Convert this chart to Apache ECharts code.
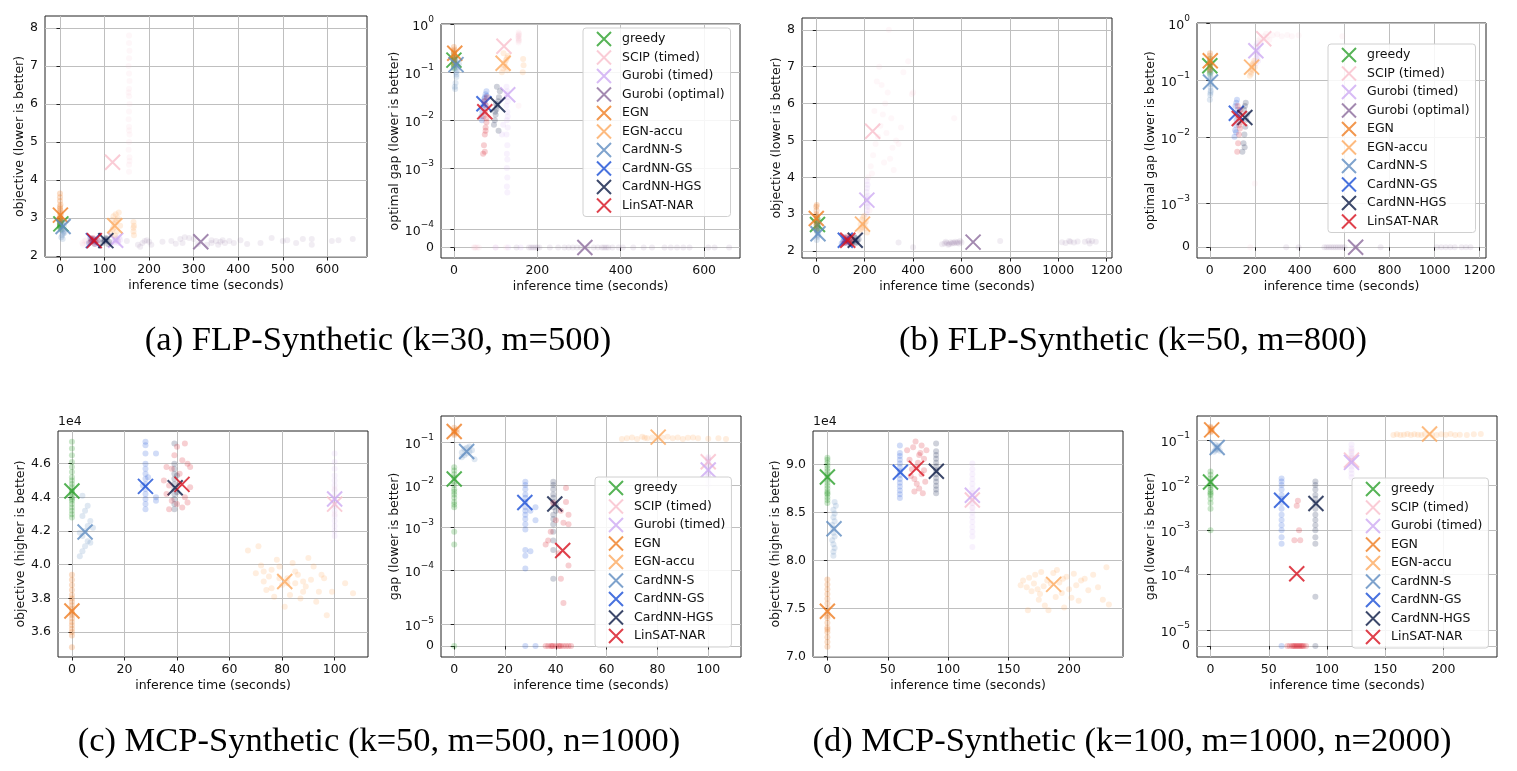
<!DOCTYPE html>
<html><head><meta charset="utf-8">
<script src="https://cdn.jsdelivr.net/npm/echarts@6/dist/echarts.min.js"></script>
<style>html,body{margin:0;padding:0;background:#fff}#c{width:1517px;height:771px}</style>
</head><body><div id="c"></div><script>
const METHODS = ['greedy','SCIP (timed)','Gurobi (timed)','Gurobi (optimal)','EGN','EGN-accu','CardNN-S','CardNN-GS','CardNN-HGS','LinSAT-NAR'];
const COLORS = ['#2ca02c','#f9bfcc','#cdaaf2','#8c6c9c','#ef7d22','#fdaa60','#5f8cc0','#1a4fd6','#0b1a45','#d7101e'];
const DOT_ALPHA = [0.25,0.12,0.15,0.12,0.25,0.2,0.2,0.2,0.2,0.2];
const FONT = 'DejaVu Sans';

// ---------- tick labels ----------
const a1XTicks = [0,100,200,300,400,500,600];
const a2XTicks = [0,200,400,600];
const b1XTicks = [0,200,400,600,800,1000,1200];
const b2XTicks = [0,200,400,600,800,1000,1200];
const c1XTicks = [0,20,40,60,80,100];
const c2XTicks = [0,20,40,60,80,100];
const d1XTicks = [0,50,100,150,200];
const d2XTicks = [0,50,100,150,200];
const a1YTicks = [2,3,4,5,6,7,8];
const b1YTicks = [2,3,4,5,6,7,8];
const c1YTicks = [36000,38000,40000,42000,44000,46000];
const d1YTicks = [70000,75000,80000,85000,90000];
const a2GapTicks = [0,1e-4,1e-3,1e-2,1e-1,1];
const b2GapTicks = [0,1e-3,1e-2,1e-1,1];
const c2GapTicks = [0,1e-5,1e-4,1e-3,1e-2,1e-1];
const d2GapTicks = [0,1e-5,1e-4,1e-3,1e-2,1e-1];
// scale positions of the gap ticks (symlog-like axis, in decade units)
const a2GapPos = [0,0.38,1.66,2.66,3.66,4.66];
const b2GapPos = [0,0.77,1.95,2.95,3.95];
const c2GapPos = [0,0.5,1.776,2.776,3.776,4.776];
const d2GapPos = [0,0.35,1.59,2.58,3.59,4.59];

// ---------- data: means (X markers), METHODS order ----------
const a1Mean = [[2,2.85],[118,4.47],[125,2.42],[316,2.38],[1,3.08],[123,2.8],[7,2.78],[75,2.41],[103,2.41],[77,2.41]];
const a2Mean = [[0,0.18],[120,0.35],[129,0.034],[314,0],[2,0.25],[118,0.155],[5,0.145],[72,0.022],[105,0.021],[74,0.015]];
const b1Mean = [[5,2.72],[233,5.25],[209,3.38],[648,2.24],[0,2.88],[191,2.73],[7,2.47],[120,2.29],[161,2.29],[130,2.29]];
const b2Mean = [[0,0.18],[240,0.54],[205,0.33],[649,0],[2,0.22],[186,0.17],[3,0.093],[118,0.026],[156,0.022],[131,0.021]];
const c1Mean = [[0,44380],[100,43600],[100,43900],null,[0,37250],[81,39000],[5,41940],[28,44650],[39.3,44570],[41.9,44770]];
const c2Mean = [[0,0.0138],[100,0.035],[100,0.0226],null,[0,0.18],[80.3,0.133],[4.9,0.061],[27.8,0.0039],[39.6,0.0036],[42.7,0.00029]];
const d1Mean = [[0,88700],[120,86300],[120,86800],null,[0,74700],[187.3,77500],[5.5,83300],[60.4,89200],[90.2,89300],[73.7,89600]];
const d2Mean = [[0,0.0117],[121,0.036],[121,0.032],null,[1,0.17],[188,0.138],[5.7,0.069],[61,0.0046],[90.5,0.0039],[74,0.000105]];

// ---------- data: per-instance samples, METHODS order ----------
const a1Pts = [
 [[0,2.75],[0,2.8],[1,2.85],[0,2.9],[1,2.95],[0,3.0],[2,2.7],[0,2.82],[1,2.88],[0,2.78],[2,2.92],[0,2.86]],
 [[155,4.22],[155,4.4],[156,4.6],[154,4.8],[155,5.0],[156,5.2],[155,5.4],[154,5.6],[155,5.8],[156,6.0],[155,6.2],[155,6.4],[156,6.6],[155,6.8],[154,7.0],[155,7.2],[156,7.4],[155,7.6],[155,7.8],[155,5.3],[156,4.5],[154,6.3],[50,2.35],[55,2.4],[60,2.32],[65,2.38],[52,2.3],[58,2.42],[70,2.36],[100,2.4],[110,2.35],[130,2.4]],
 [[120,2.38],[125,2.42],[128,2.45],[130,2.4],[133,2.5],[122,2.36],[135,2.43],[126,2.48],[131,2.35],[124,2.44]],
 [[150,2.4],[175,2.3],[185,2.35],[190,2.4],[195,2.42],[200,2.38],[180,2.25],[205,2.3],[250,2.4],[270,2.45],[280,2.5],[290,2.48],[300,2.45],[275,2.35],[310,2.32],[330,2.3],[340,2.35],[350,2.4],[355,2.3],[360,2.38],[365,2.42],[370,2.35],[380,2.4],[390,2.35],[405,2.42],[420,2.32],[450,2.35],[475,2.48],[500,2.4],[510,2.42],[530,2.35],[545,2.45],[565,2.45],[565,2.3],[610,2.4],[625,2.42],[657,2.45],[340,2.42],[230,2.38],[260,2.33]],
 [[0,2.9],[0,2.95],[1,3.0],[0,3.05],[2,3.1],[0,3.15],[1,3.2],[0,3.25],[0,3.3],[1,3.35],[0,3.45],[0,3.55],[0,3.65],[1,3.0],[2,2.95]],
 [[115,2.6],[118,2.7],[120,2.75],[122,2.85],[125,2.9],[127,2.95],[130,3.0],[120,3.05],[125,3.1],[132,3.15],[128,2.65],[123,2.55],[135,2.8],[117,2.95],[165,2.9],[166,2.8],[165,2.65],[166,2.55],[165,2.75]],
 [[3,2.5],[5,2.55],[7,2.6],[8,2.65],[6,2.7],[4,2.75],[9,2.8],[5,2.85],[7,2.9],[6,2.45],[10,2.62],[4,2.68]],
 [[65,2.35],[70,2.4],[75,2.45],[80,2.38],[85,2.42],[68,2.48],[78,2.32],[72,2.44]],
 [[95,2.35],[100,2.4],[105,2.45],[110,2.38],[98,2.42],[103,2.48],[108,2.32],[101,2.44]],
 [[68,2.36],[72,2.4],[76,2.44],[80,2.38],[84,2.42],[74,2.48],[78,2.33],[70,2.45]]
];
const a2Pts = [
 [[0,0.12],[0,0.14],[1,0.16],[0,0.18],[0,0.2],[1,0.22],[0,0.25],[0,0.15],[2,0.19],[0,0.13]],
 [[155,0.42],[156,0.47],[155,0.52],[154,0.56],[155,0.6],[156,0.64],[155,0.68],[155,0.5],[156,0.58],[155,0.45],[155,0.02],[48,0],[52,0],[56,0],[60,0],[50,0],[100,0],[125,0]],
 [[126,0.05],[128,0.04],[127,0.03],[129,0.025],[126,0.02],[128,0.015],[127,0.01],[129,0.007],[126,0.005],[128,0.003],[127,0.002],[128,0.0015],[127,0.001],[128,0.0007],[127,0.0005],[128,0.0004],[127,0.035],[129,0.012],[115,0.005],[118,0.008],[100,0],[130,0],[160,0]],
 [[180,0],[185,0],[190,0],[195,0],[200,0],[205,0],[250,0],[265,0],[275,0],[285,0],[295,0],[305,0],[320,0],[335,0],[345,0],[355,0],[360,0],[365,0],[370,0],[380,0],[395,0],[405,0],[430,0],[455,0],[475,0],[505,0],[520,0],[535,0],[550,0],[565,0],[610,0],[625,0],[660,0],[230,0],[150,0]],
 [[0,0.15],[0,0.18],[1,0.2],[0,0.23],[0,0.26],[1,0.3],[0,0.34],[2,0.22],[0,0.28],[1,0.17]],
 [[115,0.1],[118,0.12],[120,0.14],[122,0.16],[125,0.18],[127,0.2],[130,0.22],[119,0.25],[124,0.13],[128,0.11],[165,0.1],[167,0.14],[166,0.19]],
 [[2,0.05],[4,0.06],[6,0.08],[5,0.1],[3,0.12],[7,0.14],[5,0.16],[4,0.18],[8,0.11],[6,0.09],[3,0.045],[10,0.13],[12,0.15]],
 [[66,0.012],[68,0.015],[70,0.02],[72,0.025],[74,0.03],[76,0.035],[78,0.04],[70,0.018],[75,0.022],[73,0.028],[67,0.01],[79,0.032]],
 [[96,0.008],[98,0.01],[100,0.013],[102,0.017],[104,0.02],[106,0.025],[108,0.03],[110,0.04],[103,0.05],[99,0.015],[107,0.006],[101,0.022]],
 [[70,0.002],[72,0.003],[74,0.005],[76,0.007],[78,0.009],[71,0.012],[75,0.015],[77,0.02],[73,0.025],[79,0.03],[76,0.006],[74,0.0022],[78,0.011]]
];
const b1Pts = [
 [[2,2.55],[4,2.62],[6,2.68],[3,2.75],[5,2.8],[7,2.85],[4,2.9],[6,2.6],[3,2.72]],
 [[215,4.0],[225,4.3],[235,4.6],[245,4.9],[255,5.1],[265,5.4],[275,5.7],[285,6.0],[295,6.3],[305,4.5],[315,4.8],[330,5.0],[350,5.35],[360,6.85],[380,7.15],[395,6.25],[400,6.3],[260,7.0],[270,6.5],[300,8.0],[240,5.8],[250,6.6],[280,4.4],[290,5.2],[320,4.2],[340,4.9],[570,5.6],[220,3.1],[230,4.1],[310,5.6]],
 [[208,3.0],[210,3.1],[212,3.2],[209,3.3],[211,3.4],[213,3.5],[208,3.6],[210,3.7],[212,3.8],[209,3.9],[211,3.25],[210,3.45]],
 [[340,2.23],[400,2.1],[520,2.18],[530,2.2],[540,2.22],[550,2.19],[555,2.24],[560,2.2],[565,2.23],[570,2.21],[575,2.25],[580,2.22],[585,2.24],[590,2.2],[595,2.27],[600,2.23],[545,2.17],[535,2.25],[760,2.27],[1015,2.24],[1030,2.22],[1050,2.25],[1065,2.23],[1080,2.26],[1110,2.25],[1125,2.28],[1140,2.27],[1155,2.25],[1130,2.2],[1045,2.27]],
 [[0,2.6],[1,2.7],[0,2.8],[2,2.9],[0,3.0],[1,3.1],[0,3.2],[2,3.25],[1,2.95],[0,2.75]],
 [[180,2.55],[185,2.6],[190,2.65],[195,2.7],[200,2.75],[205,2.8],[188,2.85],[193,2.9],[198,2.95],[203,2.62],[183,2.72],[210,2.5]],
 [[2,2.3],[5,2.38],[8,2.45],[4,2.52],[7,2.6],[3,2.68],[9,2.75],[6,2.42],[5,2.55]],
 [[105,2.2],[110,2.25],[115,2.3],[120,2.35],[125,2.22],[130,2.28],[135,2.32],[112,2.38],[118,2.24]],
 [[145,2.2],[150,2.25],[155,2.3],[160,2.35],[165,2.22],[170,2.28],[175,2.32],[158,2.38],[163,2.24]],
 [[115,2.21],[120,2.26],[125,2.31],[130,2.36],[135,2.23],[140,2.29],[145,2.33],[128,2.39],[133,2.25]]
];
const b2Pts = [
 [[0,0.13],[1,0.15],[0,0.17],[2,0.19],[0,0.21],[1,0.24],[0,0.14],[0,0.2]],
 [[215,0.5],[225,0.55],[240,0.6],[255,0.58],[265,0.52],[280,0.62],[300,0.65],[320,0.6],[345,0.63],[365,0.6],[395,0.62],[590,0.6],[230,0.48],[250,0.66],[180,0],[200,0.002]],
 [[205,0.2],[207,0.24],[209,0.28],[211,0.32],[213,0.36],[206,0.4],[210,0.45],[212,0.26],[208,0.3],[215,0.22]],
 [[340,0],[395,0],[510,0],[520,0],[530,0],[540,0],[550,0],[560,0],[570,0],[580,0],[590,0],[600,0],[650,0],[760,0],[1010,0],[1030,0],[1050,0],[1070,0],[1090,0],[1120,0],[1140,0],[1160,0]],
 [[0,0.15],[1,0.18],[0,0.21],[2,0.24],[0,0.27],[1,0.3],[0,0.2],[2,0.16]],
 [[178,0.12],[182,0.14],[186,0.16],[190,0.18],[194,0.2],[198,0.22],[184,0.13],[192,0.15],[200,0.17],[188,0.19]],
 [[0,0.045],[2,0.055],[4,0.065],[3,0.075],[5,0.085],[1,0.1],[4,0.11],[2,0.12],[6,0.14],[3,0.06]],
 [[110,0.01],[113,0.013],[116,0.016],[119,0.02],[122,0.025],[125,0.03],[114,0.035],[118,0.04],[121,0.045],[117,0.012]],
 [[145,0.006],[150,0.008],[154,0.011],[158,0.015],[162,0.02],[166,0.025],[152,0.03],[156,0.035],[160,0.04],[155,0.007]],
 [[122,0.006],[126,0.008],[130,0.011],[134,0.014],[138,0.018],[128,0.022],[132,0.026],[136,0.03],[124,0.035],[130,0.016]]
];
const c1Pts = [
 [[0,42800],[0,43000],[0,43200],[0,43400],[0,43600],[0,43800],[0,44000],[0,44200],[0,44400],[0,44600],[0,44800],[0,45000],[0,45200],[0,45500],[0,45800],[0,46100],[0,46500],[0,46900],[0,47300],[0,44300],[0,43900]],
 [[100,43000],[100,43500],[100,44000],[100,44500]],
 [[100,41700],[100,42000],[100,42300],[100,42600],[100,42900],[100,43200],[100,43500],[100,43800],[100,44100],[100,44400],[100,44700],[100,45000],[100,45300],[100,45700],[100,46100],[100,46600]],
 [],
 [[0,35100],[0,35800],[0,36000],[0,36200],[0,36400],[0,36600],[0,36800],[0,37000],[0,37200],[0,37400],[0,37600],[0,37800],[0,38000],[0,38200],[0,38500],[0,38800],[0,39100],[0,39400],[0,37100]],
 [[67,40850],[70,39500],[71,41100],[72,39950],[73,39000],[74,38500],[75,39300],[76,39700],[77,38100],[78,40300],[79,39900],[80,38800],[81,37500],[82,39200],[83,38200],[84,40100],[85,38900],[86,39400],[87,38000],[88,39000],[89,38700],[90,40400],[91,39100],[92,39900],[93,37800],[94,38400],[95,39400],[96,39200],[97,37000],[99,38400],[104,38900],[107,38300],[73,39600],[76,38600],[79,39200],[82,38900],[85,39600],[88,38400]],
 [[3,40500],[4,40800],[5,41100],[6,41400],[4,41700],[5,42000],[6,42300],[7,42600],[4,42900],[5,43200],[6,43500],[3,41900],[7,41300],[4,44100],[8,42200]],
 [[28,43300],[28,43600],[28,43900],[28,44200],[28,44500],[28,44800],[28,45100],[28,45400],[28,45700],[28,46000],[28,46600],[28,47300],[28,47100],[32,46600],[32,44000],[32,43800],[27,44700],[29,45200]],
 [[39,43300],[39,43600],[39,43900],[39,44200],[39,44500],[39,44800],[39,45100],[39,45400],[39,45700],[39,46000],[39,47200],[40,44300],[40,45300]],
 [[35,45000],[36,44200],[37,43300],[38,45700],[40,43600],[41,44800],[42,46200],[43,47200],[44,43700],[45,45800],[37,44700],[41,45400],[43,44000],[44,46000],[36,45800],[42,43400],[39,46500],[45,44600],[40,47000],[38,43800]]
];
const c2Pts = [
 [[0,0.003],[0,0.004],[0,0.005],[0,0.006],[0,0.008],[0,0.01],[0,0.012],[0,0.015],[0,0.018],[0,0.022],[0,0.026],[0,0.0008],[0,0.0004],[0,0],[0,0.007],[0,0.0035]],
 [[100,0.03],[100,0.045],[100,0.04]],
 [[100,0.01],[100,0.013],[100,0.016],[100,0.02],[100,0.025],[100,0.03],[100,0.035],[100,0.04],[100,0.045],[100,0.018]],
 [],
 [[0,0.15],[0,0.16],[1,0.17],[0,0.18],[0,0.19],[1,0.2],[0,0.22]],
 [[66,0.12],[68,0.125],[70,0.13],[72,0.12],[74,0.135],[76,0.125],[78,0.13],[80,0.12],[82,0.128],[84,0.135],[86,0.125],[88,0.13],[90,0.12],[92,0.128],[94,0.13],[96,0.125],[100,0.122],[104,0.125],[107,0.12],[75,0.128]],
 [[3,0.045],[4,0.05],[5,0.055],[6,0.06],[7,0.065],[4,0.07],[5,0.075],[6,0.08],[3,0.058],[8,0.04]],
 [[28,0.0009],[28,0.0012],[28,0.0016],[28,0.002],[28,0.0025],[28,0.003],[28,0.004],[28,0.005],[28,0.006],[28,0.008],[28,0.01],[28,0.012],[28,0.0003],[28,0.00022],[28,0.00011],[30,0.0025],[32,0.003],[32,0.0015],[30,0.00028],[28,0],[32,0]],
 [[39,0.0003],[39,0.0005],[39,0.0008],[39,0.0012],[39,0.0016],[39,0.002],[39,0.003],[39,0.004],[39,0.005],[39,0.006],[39,0.008],[39,0.01],[39,0.012],[39,0.00007],[40,0.0035],[40,0.0025]],
 [[36,0.0004],[38,0.0008],[40,0.0015],[42,0.0025],[44,0.004],[45,0.002],[43,0.0013],[41,0.00025],[37,0.0005],[39,0.0038],[44,0.0085],[42,0.00007],[43,0.000025],[45,0.00013],[45,0.0012],[36,0],[37,0],[38,0],[39,0],[40,0],[41,0],[42,0],[43,0],[44,0],[45,0],[46,0],[38.5,0],[41.5,0]]
];
const d1Pts = [
 [[0,86000],[0,86300],[0,86600],[0,86900],[0,87200],[0,87500],[0,87800],[0,88100],[0,88400],[0,88700],[0,89000],[0,89300],[0,89600],[0,89900],[0,90200],[0,90500],[0,90700],[0,87000]],
 [[120,85500],[120,86000],[120,86500],[120,87000]],
 [[120,81400],[120,82500],[120,83000],[120,83500],[120,84000],[120,84500],[120,85000],[120,85500],[120,86000],[120,86500],[120,87000],[120,87500],[120,88000],[120,88500],[120,89000],[120,89500],[120,90100]],
 [],
 [[0,71000],[0,71500],[0,72000],[0,72500],[0,73000],[0,73500],[0,74000],[0,74500],[0,75000],[0,75500],[0,76000],[0,76500],[0,77000],[0,77500],[0,78000],[0,74200],[0,72800]],
 [[160,77400],[162,77900],[165,77200],[167,78200],[169,76800],[171,77600],[172,78500],[174,77000],[176,76500],[177,78800],[179,77300],[180,75300],[182,77900],[183,74800],[185,77600],[187,78700],[189,76200],[190,79000],[192,77700],[194,76600],[196,75100],[198,78300],[200,77000],[202,76100],[204,78600],[206,77400],[208,75800],[210,77900],[213,78100],[216,76900],[220,78500],[224,77200],[228,75900],[231,79300],[233,75400],[166,74800],[175,75900],[195,78100]],
 [[5,80500],[5,80900],[6,81300],[5,81700],[4,82100],[6,82500],[5,82900],[5,83300],[4,83700],[6,84100],[5,84500],[6,84900],[5,85300],[7,85700],[6,86100]],
 [[60,86500],[60,86900],[60,87300],[60,87700],[60,88100],[60,88500],[60,88900],[60,89300],[60,89700],[60,90100],[60,90500],[60,90900],[60,91200],[60,92000]],
 [[90,87000],[90,87400],[90,87800],[90,88200],[90,88600],[90,89000],[90,89400],[90,89800],[90,90200],[90,90600],[90,91000],[90,91400],[90,92200]],
 [[66,91500],[68,90500],[70,89500],[71,91800],[72,88500],[73,92400],[74,88000],[75,90200],[76,87500],[77,91200],[78,89000],[79,87000],[80,90600],[81,88200],[82,91500],[69,88800],[74,89700],[76,91000],[78,92000],[72,87200],[80,89400]]
];
const d2Pts = [
 [[0,0.003],[0,0.004],[0,0.005],[0,0.006],[0,0.007],[0,0.008],[0,0.009],[0,0.01],[0,0.012],[0,0.014],[0,0.017],[0,0.02],[0,0.001],[0,0.0065]],
 [[121,0.05],[121,0.04],[121,0.06]],
 [[121,0.015],[121,0.018],[121,0.022],[121,0.026],[121,0.03],[121,0.035],[121,0.04],[121,0.045],[121,0.055],[121,0.065],[121,0.08]],
 [],
 [[0,0.15],[1,0.16],[0,0.17],[1,0.18],[0,0.19],[0,0.2]],
 [[157,0.13],[160,0.135],[163,0.13],[166,0.132],[169,0.138],[172,0.13],[175,0.135],[178,0.133],[181,0.13],[184,0.137],[190,0.133],[194,0.13],[198,0.135],[202,0.132],[206,0.138],[210,0.13],[214,0.133],[220,0.13],[226,0.135],[232,0.138]],
 [[3,0.055],[4,0.06],[5,0.065],[6,0.07],[7,0.075],[4,0.08],[6,0.062],[8,0.058]],
 [[61,0.0005],[61,0.0007],[61,0.001],[61,0.0013],[61,0.0017],[61,0.0022],[61,0.003],[61,0.004],[61,0.005],[61,0.006],[61,0.008],[61,0.01],[61,0.012],[61,0.014],[61,0]],
 [[90,0.0005],[90,0.0007],[90,0.001],[90,0.0013],[90,0.0017],[90,0.0022],[90,0.003],[90,0.004],[90,0.005],[90,0.006],[90,0.008],[90,0.01],[90,0.012],[90,0.00004],[90,0]],
 [[72,0.0006],[74,0.0035],[75,0.0045],[76,0.001],[77,0.0006],[66,0],[68,0],[70,0],[71,0],[72,0],[73,0],[74,0],[75,0],[76,0],[77,0],[78,0],[79,0],[80,0],[82,0]]
];

const CAPTIONS = ['(a) FLP-Synthetic (k=30, m=500)','(b) FLP-Synthetic (k=50, m=800)','(c) MCP-Synthetic (k=50, m=500, n=1000)','(d) MCP-Synthetic (k=100, m=1000, n=2000)'];

// ---------- layout ----------
const PLOTS = [
 {grid:{left:45,top:16,width:322,height:241}, xr:[-33.6,689], xt:a1XTicks, yr:[1.98,8.31], yt:a1YTicks, fmt:v=>String(v), yName:'objective (lower is better)', yGap:18, mean:a1Mean, pts:a1Pts},
 {grid:{left:441,top:24,width:299,height:234}, xr:[-31,686], xt:a2XTicks, yr:[-0.22,4.67], gv:a2GapTicks, gp:a2GapPos, yName:'optimal gap (lower is better)', yGap:40, mean:a2Mean, pts:a2Pts, legend:{left:583,top:28}},
 {grid:{left:802,top:18,width:310,height:240}, xr:[-59,1222], xt:b1XTicks, yr:[1.81,8.32], yt:b1YTicks, fmt:v=>String(v), yName:'objective (lower is better)', yGap:18, mean:b1Mean, pts:b1Pts},
 {grid:{left:1197,top:23,width:289,height:235}, xr:[-57,1229], xt:b2XTicks, yr:[-0.19,3.96], gv:b2GapTicks, gp:b2GapPos, yName:'optimal gap (lower is better)', yGap:40, mean:b2Mean, pts:b2Pts, legend:{left:1328,top:44}},
 {grid:{left:58,top:431,width:310,height:226}, xr:[-5.3,112.7], xt:c1XTicks, yr:[34520,47940], yt:c1YTicks, fmt:v=>(v/1e4).toFixed(1), yName:'objective (higher is better)', yGap:31, mean:c1Mean, pts:c1Pts, off:'1e4'},
 {grid:{left:441,top:416,width:300,height:241}, xr:[-5.2,112.9], xt:c2XTicks, yr:[-0.258,5.395], gv:c2GapTicks, gp:c2GapPos, yName:'gap (lower is better)', yGap:40, mean:c2Mean, pts:c2Pts, legend:{left:595,top:477}},
 {grid:{left:813,top:431,width:310,height:226}, xr:[-11.9,244.7], xt:d1XTicks, yr:[69930,93500], yt:d1YTicks, fmt:v=>(v/1e4).toFixed(1), yName:'objective (higher is better)', yGap:29, mean:d1Mean, pts:d1Pts, off:'1e4'},
 {grid:{left:1197,top:416,width:300,height:241}, xr:[-11.6,245.9], xt:d2XTicks, yr:[-0.246,5.13], gv:d2GapTicks, gp:d2GapPos, yName:'gap (lower is better)', yGap:40, mean:d2Mean, pts:d2Pts, legend:{left:1352,top:478}}
];
const CAP_POS = [[378,341],[1133,341],[379,742],[1132,742]];

function gapScale(vals, pos) {
  return function (v) {
    if (v <= 0) return pos[0];
    for (let i = 1; i < vals.length; i++) {
      if (v <= vals[i] || i === vals.length - 1) {
        if (vals[i-1] === 0) return pos[0] + (v / vals[i]) * (pos[i] - pos[0]);
        const a = Math.log10(vals[i-1]), b = Math.log10(vals[i]);
        return pos[i-1] + (Math.log10(v) - a) / (b - a) * (pos[i] - pos[i-1]);
      }
    }
  };
}
const XPATH = 'path://M0,0L10,10M10,0L0,10';
const txt = {fontFamily: FONT, fontSize: 12.5, color: '#111'};

const grids = [], xAxes = [], yAxes = [], series = [], legends = [], graphics = [];
PLOTS.forEach((p, gi) => {
  grids.push(Object.assign({show:true, borderColor:'#222', borderWidth:1, backgroundColor:'transparent'}, p.grid));
  xAxes.push({type:'value', gridIndex:gi, min:p.xr[0], max:p.xr[1],
    axisLine:{show:false}, axisTick:{show:true, length:3.5, lineStyle:{color:'#222'}, customValues:p.xt},
    axisLabel:Object.assign({customValues:p.xt, margin:6, formatter:v => String(v)}, txt),
    splitLine:{show:true, lineStyle:{color:'#bfbfbf', width:1}},
    name:'inference time (seconds)', nameLocation:'middle', nameGap:22, nameTextStyle:txt});
  let tr = v => v, yVals, yFmt;
  if (p.gv) {
    tr = gapScale(p.gv, p.gp);
    yVals = p.gp;
    yFmt = v => {
      const i = p.gp.findIndex(q => Math.abs(q - v) < 1e-6);
      const g = p.gv[i];
      if (g === 0) return '0';
      const e = Math.round(Math.log10(g));
      return '{n|10}{s|' + (e < 0 ? '\u2212' + (-e) : String(e)) + '}';
    };
  } else { yVals = p.yt; yFmt = p.fmt; }
  yAxes.push({type:'value', gridIndex:gi, min:p.yr[0], max:p.yr[1],
    axisLine:{show:false}, axisTick:{show:true, length:3.5, lineStyle:{color:'#222'}, customValues:yVals},
    axisLabel:Object.assign({customValues:yVals, margin:7, formatter:yFmt,
      rich:{n:{fontFamily:FONT, fontSize:12.5, color:'#111', lineHeight:18, verticalAlign:'bottom'},
            s:{fontFamily:FONT, fontSize:9, color:'#111', lineHeight:10, verticalAlign:'top'}}}, txt),
    splitLine:{show:true, lineStyle:{color:'#bfbfbf', width:1}},
    name:p.yName, nameLocation:'middle', nameRotate:90, nameGap:p.yGap, nameTextStyle:txt});
  METHODS.forEach((m, mi) => {
    const pts = p.pts[mi];
    if (pts && pts.length) series.push({type:'scatter', name:m + ' samples', xAxisIndex:gi, yAxisIndex:gi,
      symbol:'circle', symbolSize:6, silent:true, z:2,
      itemStyle:{color:COLORS[mi], opacity:DOT_ALPHA[mi]},
      data:pts.map(d => [d[0], tr(d[1])])});
    const mu = p.mean[mi];
    if (mu) series.push({type:'scatter', name:m, xAxisIndex:gi, yAxisIndex:gi,
      symbol:XPATH, symbolSize:15, silent:true, z:2,
      itemStyle:{color:COLORS[mi], borderColor:COLORS[mi], borderWidth:2},
      data:[[mu[0], tr(mu[1])]]});
  });
  if (p.legend) {
    legends.push({orient:'vertical', left:p.legend.left, top:p.legend.top, itemWidth:14, itemHeight:14, itemGap:2.5,
      padding:[3,6,3,13], backgroundColor:'rgba(255,255,255,0.85)', borderColor:'#d0d0d0', borderWidth:1, borderRadius:3,
      textStyle:{fontFamily:FONT, fontSize:12.5, color:'#111', lineHeight:14, padding:[0,0,0,6]},
      selectedMode:false,
      data:METHODS.filter((m, mi) => p.mean[mi]).map(m => {
        const c = COLORS[METHODS.indexOf(m)];
        return {name:m, icon:XPATH, itemStyle:{color:c, borderColor:c, borderWidth:2}};
      })});
  }
  if (p.off) graphics.push({type:'text', x:p.grid.left, y:p.grid.top - 3,
    style:{text:p.off, fontFamily:FONT, fontSize:12.5, fill:'#111', textAlign:'left', textVerticalAlign:'bottom', align:'left', verticalAlign:'bottom'}});
});
CAPTIONS.forEach((c, i) => graphics.push({type:'text', x:CAP_POS[i][0], y:CAP_POS[i][1],
  style:{text:c, fontFamily:'Liberation Serif', fontSize:34.5, fill:'#000', textAlign:'center', textVerticalAlign:'middle', align:'center', verticalAlign:'middle'}}));

const chart = echarts.init(document.getElementById('c'), null, {renderer:'canvas'});
chart.setOption({animation:false, backgroundColor:'#fff', grid:grids, xAxis:xAxes, yAxis:yAxes, series:series, legend:legends, graphic:graphics});
</script></body></html>
